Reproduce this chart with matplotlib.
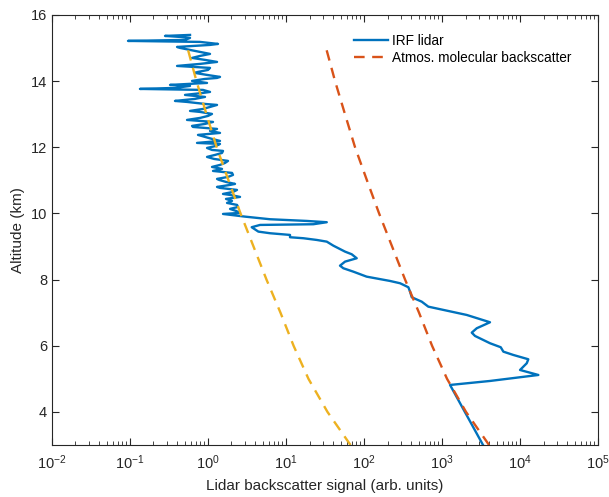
import matplotlib
matplotlib.use('Agg')
import matplotlib.pyplot as plt
from matplotlib.ticker import LogLocator, NullFormatter

plt.rcParams['font.family'] = ['Liberation Sans', 'DejaVu Sans']
plt.rcParams['axes.unicode_minus'] = False
plt.rcParams['mathtext.fontset'] = 'custom'
plt.rcParams['mathtext.rm'] = 'Liberation Sans'
plt.rcParams['mathtext.it'] = 'Liberation Sans'
plt.rcParams['mathtext.default'] = 'regular'

# IRF lidar profile (altitude in km, signal in arb. units)
irf_alt = [3.0, 4.815, 4.936, 5.117, 5.268, 5.471, 5.592, 5.722, 5.822, 5.955,
           6.076, 6.296, 6.396, 6.529, 6.710, 6.931, 7.061, 7.182, 7.333, 7.466,
           7.636, 7.769, 7.889, 7.959, 8.089, 8.240, 8.343, 8.421, 8.543, 8.645,
           8.766, 8.845, 9.026, 9.147, 9.198, 9.250, 9.280, 9.350, 9.401, 9.450,
           9.583, 9.652, 9.673, 9.734, 9.773, 9.824, 9.903,
           9.984, 10.015, 10.075, 10.136, 10.196, 10.257, 10.317, 10.378, 10.438, 10.499,
           10.559, 10.589, 10.650, 10.710, 10.771, 10.801, 10.861, 10.892, 10.952, 11.013,
           11.043, 11.103, 11.164, 11.224, 11.284, 11.345, 11.405, 11.466, 11.526, 11.587,
           11.647, 11.708, 11.768, 11.828, 11.889, 11.919, 11.979, 12.040, 12.100, 12.131,
           12.191, 12.252, 12.312, 12.373, 12.433, 12.493, 12.554, 12.614, 12.645, 12.705,
           12.765, 12.826, 12.886, 12.947, 13.007, 13.068, 13.098, 13.158, 13.219, 13.279,
           13.309, 13.370, 13.400, 13.461, 13.521, 13.582, 13.642, 13.672, 13.733, 13.763,
           13.793, 13.854, 13.884, 13.944, 14.005, 14.065, 14.095, 14.126, 14.186, 14.247,
           14.277, 14.337, 14.398, 14.458, 14.519, 14.579, 14.640, 14.700, 14.760, 14.821,
           14.881, 14.942, 15.002, 15.032, 15.093, 15.123, 15.184, 15.214, 15.244, 15.305,
           15.335, 15.365, 15.395]
irf_sig = [3355, 1267, 4122, 17170, 10000, 12190, 12770, 8206, 6112, 5659,
           4122, 2649, 2404, 2786, 4122, 2074, 1148, 667, 549, 409,
           389, 370, 290, 215, 108, 72.9, 54.3, 49.2, 57.1, 80.6,
           69.5, 57.1, 40.4, 33.3, 24.8, 16.7, 11.25, 11.25, 6.24, 4.42,
           3.63, 4.64, 22.4, 33.3, 18.4, 6.24, 2.981,
           1.557, 2.573, 2.286, 1.915, 2.425, 2.354, 1.752, 2.031, 1.701, 2.573,
           1.915, 1.557, 2.092, 2.354, 1.425, 1.305, 1.915, 2.219, 1.701, 1.384,
           1.305, 1.805, 2.092, 2.031, 1.159, 1.512, 1.125, 1.425, 1.652, 1.805,
           1.194, 0.971, 1.229, 1.512, 1.557, 1.125, 0.971, 1.266, 1.425, 0.723,
           1.425, 1.125, 0.915, 0.744, 1.425, 1.061, 1.305, 0.642, 0.624, 0.915,
           1.159, 0.538, 0.789, 1.0, 1.125, 0.789, 0.588, 0.863, 1.061, 1.305,
           0.915, 0.538, 0.377, 0.681, 0.915, 0.507, 0.863, 1.061, 0.863, 0.134,
           0.377, 0.588, 0.326, 0.971, 0.624, 0.915, 1.305, 1.425, 0.971, 0.681,
           0.744, 1.0, 1.061, 0.401, 0.789, 1.305, 0.915, 0.624, 0.789, 1.061,
           0.789, 0.588, 0.438, 0.401, 1.061, 1.343, 0.789, 0.0942, 0.507, 0.588,
           0.438, 0.281, 0.588]

# molecular backscatter curves
mol_alt = [3, 4, 5, 6, 7, 8, 9, 10, 11, 12, 13, 14, 15]
mol_sig = [4010, 2030, 1160, 745, 507, 336, 229, 156, 109, 76.7, 57.0, 42.5, 32.6]
mol_fit_sig = [67.1, 34.0, 19.4, 12.5, 8.49, 5.62, 3.83, 2.61, 1.83, 1.29, 0.955, 0.711, 0.546]

fig = plt.figure(figsize=(6.09, 4.97), dpi=100)
ax = fig.add_axes([0.0854, 0.1046, 0.8966, 0.8654])

ax.plot(irf_sig, irf_alt, color='#0072BD', lw=1.7, label='IRF lidar')
ax.plot(mol_sig, mol_alt, color='#D95319', lw=1.7, ls=(0, (4.5, 3.2)),
        label='Atmos. molecular backscatter')
ax.plot(mol_fit_sig, mol_alt, color='#EDB120', lw=1.7, ls=(0, (4.5, 3.2)))

ax.set_xscale('log')
ax.set_xlim(1e-2, 1e5)
ax.set_ylim(3, 16)
ax.set_yticks([4, 6, 8, 10, 12, 14, 16])
ax.xaxis.set_major_locator(LogLocator(base=10, numticks=20))
ax.xaxis.set_minor_locator(LogLocator(base=10, subs=range(2, 10), numticks=100))
ax.xaxis.set_minor_formatter(NullFormatter())

grey = '#262626'
for s in ax.spines.values():
    s.set_color(grey)
    s.set_linewidth(0.8)
ax.tick_params(which='both', direction='in', top=True, right=True, colors=grey,
               labelsize=10.5, labelcolor=grey)
ax.tick_params(which='major', length=5)
ax.tick_params(which='minor', length=3)
ax.tick_params(axis='x', which='major', pad=6)

ax.set_xlabel('Lidar backscatter signal (arb. units)', fontsize=11, color=grey,
              labelpad=5)
ax.set_ylabel('Altitude (km)', fontsize=11, color=grey)

ax.legend(loc='upper left', bbox_to_anchor=(0.53, 0.985), frameon=False,
          fontsize=9.8, handlelength=2.5, handletextpad=0.3, labelspacing=0.25)

fig.savefig('out.png', dpi=100)
